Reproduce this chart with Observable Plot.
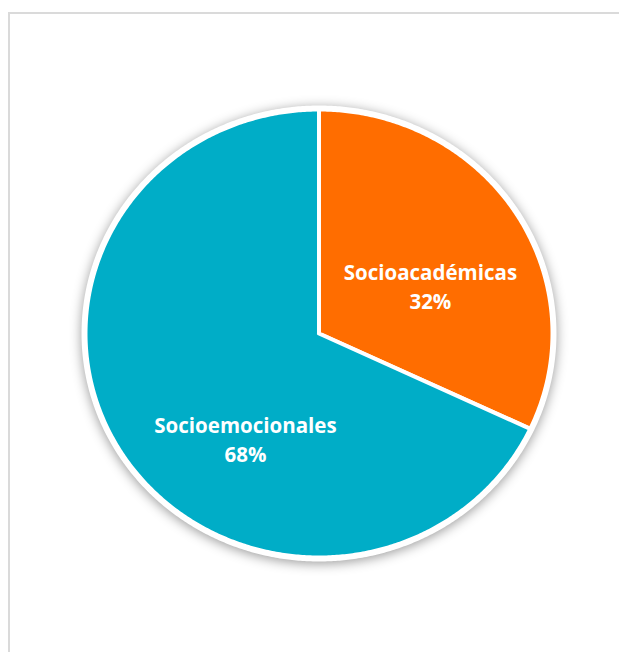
<!DOCTYPE html>
<html>
<head>
<meta charset="utf-8">
<script src="https://cdn.jsdelivr.net/npm/d3@7"></script>
<script src="https://cdn.jsdelivr.net/npm/@observablehq/plot@0.6"></script>
<style>
  html, body { margin: 0; padding: 0; background: #fff; }
  #wrap { position: relative; width: 619px; height: 652px; overflow: hidden; }
  #frame { position: absolute; left: 8px; top: 12px; width: 640px; height: 680px;
           border-left: 2px solid #dadada; border-top: 2px solid #dadada; box-sizing: border-box; }
  #chart { position: absolute; left: 0; top: 0; }
</style>
</head>
<body>
<div id="wrap"><div id="frame"></div><div id="chart"></div></div>
<script>
// ---- data ----
const categories = ["Socioacadémicas", "Socioemocionales"];
const values = [32, 68];
const colors = ["#ff6d00", "#00adc7"];

// ---- layout ----
const labelPos = { // unit-circle placement of the data labels (Excel "best fit")
  "Socioacadémicas": [0.477, 0.215],
  "Socioemocionales": [-0.315, -0.468]
};

const total = d3.sum(values);
const arcs = d3.pie().sort(null).value(d => d.value)(categories.map((c, i) => ({cat: c, value: values[i]})));

// polygon vertices for each slice, derived from the pie angles
const slicePts = [];
for (const a of arcs) {
  const cat = a.data.cat;
  slicePts.push({cat, x: 0, y: 0});
  const n = Math.max(2, Math.ceil((a.endAngle - a.startAngle) / (Math.PI / 360)));
  for (let k = 0; k <= n; k++) {
    const t = a.startAngle + (a.endAngle - a.startAngle) * k / n;
    slicePts.push({cat, x: Math.sin(t), y: Math.cos(t)});
  }
  slicePts.push({cat, x: 0, y: 0});
}
const ringPts = d3.range(0, 721).map(k => {
  const t = k * Math.PI / 360;
  return {x: Math.sin(t), y: Math.cos(t)};
});

const labels = arcs.map(a => ({
  cat: a.data.cat,
  x: labelPos[a.data.cat][0],
  y: labelPos[a.data.cat][1],
  text: `${a.data.cat}\n${Math.round(a.data.value / total * 100)}%`
}));

const plot = Plot.plot({
  width: 619,
  height: 652,
  margin: 0,
  style: {background: "transparent", overflow: "visible"},
  x: {domain: [-1, 1], range: [85, 552], axis: null},
  y: {domain: [-1, 1], range: [557, 109], axis: null},
  color: {domain: categories, range: colors},
  marks: [
    Plot.line(ringPts, {x: "x", y: "y", fill: "white", stroke: "white", strokeWidth: 8}),
    Plot.line(slicePts, {x: "x", y: "y", z: "cat", fill: "cat", stroke: "white", strokeWidth: 4,
      strokeLinejoin: "round", strokeLinecap: "round"}),
    Plot.text(labels, {x: "x", y: "y", text: "text", fill: "white", fontSize: 20.5, fontWeight: "bold",
      fontFamily: "Open Sans", lineHeight: 1.42, textAnchor: "middle"})
  ]
});
d3.select(plot).select('g[aria-label="line"]').style("filter", "drop-shadow(0px 2px 6px rgba(0,0,0,0.4))");
document.getElementById("chart").appendChild(plot);
</script>
</body>
</html>
